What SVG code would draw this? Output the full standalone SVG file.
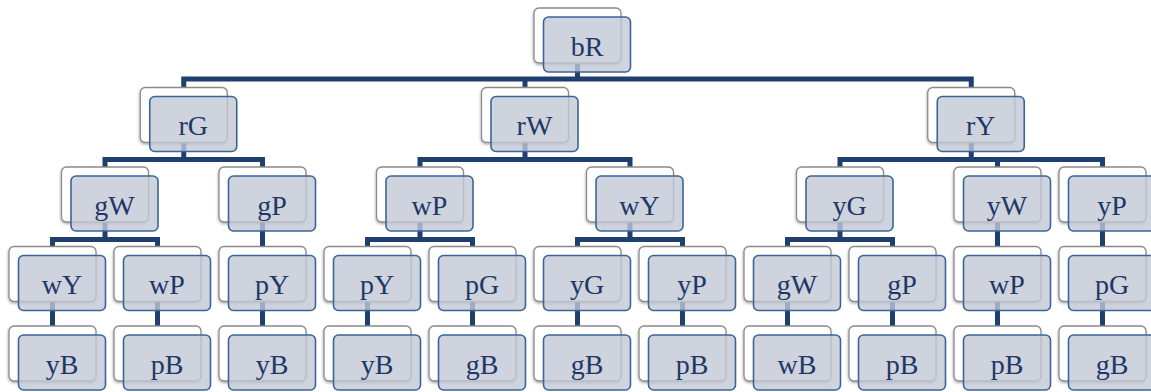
<svg xmlns="http://www.w3.org/2000/svg" width="1151" height="392" viewBox="0 0 1151 392">
  <style>
    .back { fill: #ffffff; stroke: #8a8a8a; stroke-width: 1.3; filter: url(#shadow); }
    .front { fill: #c3c8d5; fill-opacity: 0.8; stroke: #3b6498; stroke-width: 1.6; }
    .label { font-family: "Liberation Serif", "Times New Roman", serif; font-size: 28px; fill: #1d3866; text-anchor: middle; }
    .link { fill: none; stroke: #1f3f6e; stroke-width: 5; stroke-linejoin: miter; }
  </style>
  <defs>
    <filter id="shadow" x="-10%" y="-10%" width="125%" height="130%">
      <feDropShadow dx="-0.5" dy="1.5" stdDeviation="1.2" flood-color="#000000" flood-opacity="0.3"/>
    </filter>
    <!-- one node card: white backing sheet with a tinted sheet laid over it -->
    <g id="card">
      <rect class="back" x="0" y="0" width="87" height="55" rx="5"/>
      <rect class="front" x="9.5" y="9" width="87" height="55" rx="5"/>
    </g>
  </defs>

  <rect width="1151" height="392" fill="#ffffff"/>

  <!-- connectors, drawn first so boxes sit on top -->
  <g id="connectors" class="link">
    <!-- level 0 to level 1 -->
    <path d="M577.5 35V79"/>
    <path d="M183.75 95V79H971.25V95"/>
    <path d="M525 79V95"/>
    <!-- level 1 to level 2 -->
    <path d="M183.75 115V159.5"/>
    <path d="M105 175V159.5H262.5V175"/>
    <path d="M525 115V159.5"/>
    <path d="M420 175V159.5H630V175"/>
    <path d="M971.25 115V159.5"/>
    <path d="M840 175V159.5H1102.5V175"/>
    <path d="M997.5 159.5V175"/>
    <!-- level 2 to level 3 -->
    <path d="M105 195V239.5"/>
    <path d="M52.5 255V239.5H157.5V255"/>
    <path d="M262.5 195V255"/>
    <path d="M420 195V239.5"/>
    <path d="M367.5 255V239.5H472.5V255"/>
    <path d="M630 195V239.5"/>
    <path d="M577.5 255V239.5H682.5V255"/>
    <path d="M840 195V239.5"/>
    <path d="M787.5 255V239.5H892.5V255"/>
    <path d="M997.5 195V255"/>
    <path d="M1102.5 195V255"/>
    <!-- level 3 to level 4 -->
    <path d="M52.5 274V334"/>
    <path d="M157.5 274V334"/>
    <path d="M262.5 274V334"/>
    <path d="M367.5 274V334"/>
    <path d="M472.5 274V334"/>
    <path d="M577.5 274V334"/>
    <path d="M682.5 274V334"/>
    <path d="M787.5 274V334"/>
    <path d="M892.5 274V334"/>
    <path d="M997.5 274V334"/>
    <path d="M1102.5 274V334"/>
  </g>

  <!-- level 0 -->
  <g id="n-bR" transform="translate(534 8)"><use href="#card"/><text class="label" x="53" y="47.5">bR</text></g>

  <!-- level 1 -->
  <g id="n-rG" transform="translate(140.25 87.5)"><use href="#card"/><text class="label" x="53" y="47.5">rG</text></g>
  <g id="n-rW" transform="translate(481.5 87.5)"><use href="#card"/><text class="label" x="53" y="47.5">rW</text></g>
  <g id="n-rY" transform="translate(927.75 87.5)"><use href="#card"/><text class="label" x="53" y="47.5">rY</text></g>

  <!-- level 2 -->
  <g id="n-gW" transform="translate(61.5 167)"><use href="#card"/><text class="label" x="53" y="47.5">gW</text></g>
  <g id="n-gP" transform="translate(219 167)"><use href="#card"/><text class="label" x="53" y="47.5">gP</text></g>
  <g id="n-wP" transform="translate(376.5 167)"><use href="#card"/><text class="label" x="53" y="47.5">wP</text></g>
  <g id="n-wY" transform="translate(586.5 167)"><use href="#card"/><text class="label" x="53" y="47.5">wY</text></g>
  <g id="n-yG" transform="translate(796.5 167)"><use href="#card"/><text class="label" x="53" y="47.5">yG</text></g>
  <g id="n-yW" transform="translate(954 167)"><use href="#card"/><text class="label" x="53" y="47.5">yW</text></g>
  <g id="n-yP" transform="translate(1059 167)"><use href="#card"/><text class="label" x="53" y="47.5">yP</text></g>

  <!-- level 3 -->
  <g id="n-gW-wY" transform="translate(9 246.5)"><use href="#card"/><text class="label" x="53" y="47.5">wY</text></g>
  <g id="n-gW-wP" transform="translate(114 246.5)"><use href="#card"/><text class="label" x="53" y="47.5">wP</text></g>
  <g id="n-gP-pY" transform="translate(219 246.5)"><use href="#card"/><text class="label" x="53" y="47.5">pY</text></g>
  <g id="n-wP-pY" transform="translate(324 246.5)"><use href="#card"/><text class="label" x="53" y="47.5">pY</text></g>
  <g id="n-wP-pG" transform="translate(429 246.5)"><use href="#card"/><text class="label" x="53" y="47.5">pG</text></g>
  <g id="n-wY-yG" transform="translate(534 246.5)"><use href="#card"/><text class="label" x="53" y="47.5">yG</text></g>
  <g id="n-wY-yP" transform="translate(639 246.5)"><use href="#card"/><text class="label" x="53" y="47.5">yP</text></g>
  <g id="n-yG-gW" transform="translate(744 246.5)"><use href="#card"/><text class="label" x="53" y="47.5">gW</text></g>
  <g id="n-yG-gP" transform="translate(849 246.5)"><use href="#card"/><text class="label" x="53" y="47.5">gP</text></g>
  <g id="n-yW-wP" transform="translate(954 246.5)"><use href="#card"/><text class="label" x="53" y="47.5">wP</text></g>
  <g id="n-yP-pG" transform="translate(1059 246.5)"><use href="#card"/><text class="label" x="53" y="47.5">pG</text></g>

  <!-- level 4 -->
  <g id="n-l4-1" transform="translate(9 326)"><use href="#card"/><text class="label" x="53" y="47.5">yB</text></g>
  <g id="n-l4-2" transform="translate(114 326)"><use href="#card"/><text class="label" x="53" y="47.5">pB</text></g>
  <g id="n-l4-3" transform="translate(219 326)"><use href="#card"/><text class="label" x="53" y="47.5">yB</text></g>
  <g id="n-l4-4" transform="translate(324 326)"><use href="#card"/><text class="label" x="53" y="47.5">yB</text></g>
  <g id="n-l4-5" transform="translate(429 326)"><use href="#card"/><text class="label" x="53" y="47.5">gB</text></g>
  <g id="n-l4-6" transform="translate(534 326)"><use href="#card"/><text class="label" x="53" y="47.5">gB</text></g>
  <g id="n-l4-7" transform="translate(639 326)"><use href="#card"/><text class="label" x="53" y="47.5">pB</text></g>
  <g id="n-l4-8" transform="translate(744 326)"><use href="#card"/><text class="label" x="53" y="47.5">wB</text></g>
  <g id="n-l4-9" transform="translate(849 326)"><use href="#card"/><text class="label" x="53" y="47.5">pB</text></g>
  <g id="n-l4-10" transform="translate(954 326)"><use href="#card"/><text class="label" x="53" y="47.5">pB</text></g>
  <g id="n-l4-11" transform="translate(1059 326)"><use href="#card"/><text class="label" x="53" y="47.5">gB</text></g>
</svg>
